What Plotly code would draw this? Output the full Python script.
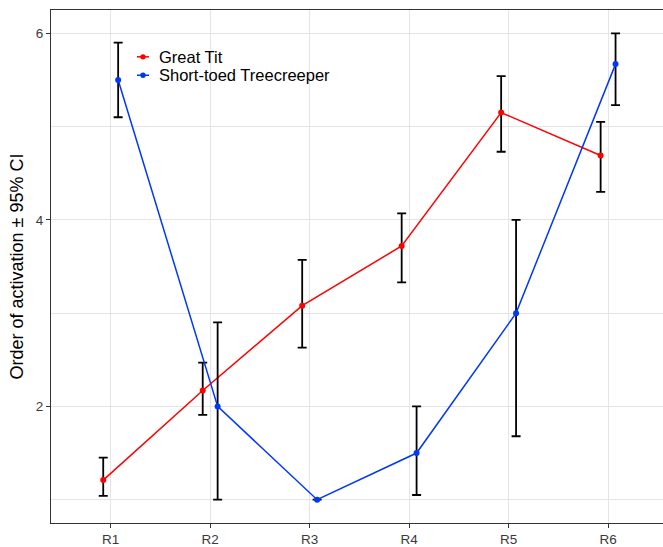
import plotly.graph_objects as go

# Round labels and per-species mean order of activation with 95% CI bounds
rounds = ["R1", "R2", "R3", "R4", "R5", "R6"]

great_tit_mean = [1.21, 2.17, 3.08, 3.72, 5.15, 4.69]
great_tit_low = [1.04, 1.91, 2.63, 3.33, 4.73, 4.30]
great_tit_high = [1.45, 2.47, 3.57, 4.07, 5.54, 5.05]

treecreeper_mean = [5.50, 2.00, 1.00, 1.50, 3.00, 5.67]
treecreeper_low = [5.10, 1.00, 1.00, 1.05, 1.68, 5.23]
treecreeper_high = [5.90, 2.90, 1.00, 2.00, 4.00, 6.00]

species = ["Great Tit", "Short-toed Treecreeper"]
colors = ["#FF0000", "#0038F8"]
dodge = 0.075

FONT = "Arial, Liberation Sans, sans-serif"

fig = go.Figure()

series = [
    (great_tit_mean, great_tit_low, great_tit_high, -dodge),
    (treecreeper_mean, treecreeper_low, treecreeper_high, dodge),
]
for (mean, low, high, shift), name, color in zip(series, species, colors):
    xs = [i + 1 + shift for i in range(len(rounds))]
    fig.add_trace(go.Scatter(
        x=xs, y=mean, name=name, mode="lines+markers",
        line=dict(color=color, width=1.5),
        marker=dict(color=color, size=6),
        error_y=dict(
            type="data", symmetric=False,
            array=[h - m for h, m in zip(high, mean)],
            arrayminus=[m - l for m, l in zip(mean, low)],
            color="black", thickness=1.8, width=4.5,
        ),
        showlegend=False,
    ))

# Legend drawn inside the panel: short line + dot, then the label
W, H = 663, 547
ml, mt, mb = 51, 10, 22
pw, ph = W - ml, H - mt - mb


def px(xp):
    return (xp - ml) / pw


def py(yp):
    return (H - mb - yp) / ph


shapes = []
annotations = []
for k, (name, color) in enumerate(zip(species, colors)):
    yc = 57 + k * 18.5
    shapes.append(dict(type="line", xref="paper", yref="paper",
                       x0=px(137), x1=px(149), y0=py(yc), y1=py(yc),
                       line=dict(color=color, width=1.5)))
    shapes.append(dict(type="circle", xref="paper", yref="paper",
                       x0=px(140.3), x1=px(145.7), y0=py(yc + 2.7), y1=py(yc - 2.7),
                       fillcolor=color, line=dict(color=color, width=0)))
    annotations.append(dict(xref="paper", yref="paper", x=px(158), y=py(yc),
                            xanchor="left", yanchor="middle", showarrow=False,
                            borderpad=0,
                            text=name, font=dict(family=FONT, size=16.5, color="black")))

fig.update_layout(
    width=W, height=H,
    margin=dict(l=ml, r=0, t=mt, b=mb),
    paper_bgcolor="white", plot_bgcolor="white",
    font=dict(family=FONT),
    shapes=shapes, annotations=annotations,
    showlegend=False,
)

fig.update_xaxes(
    range=[0.4, 6.552],
    tickmode="array", tickvals=list(range(1, len(rounds) + 1)), ticktext=rounds,
    showgrid=True, gridcolor="#E5E5E5", gridwidth=1.4, zeroline=False,
    showline=True, linecolor="#333333", linewidth=1.1, mirror=True,
    ticks="outside", ticklen=4, tickcolor="#333333", tickwidth=1.1,
    tickfont=dict(family=FONT, size=13.5, color="#3A3A3A"),
)
fig.update_yaxes(
    range=[0.75, 6.25],
    tickmode="array", tickvals=[2, 4, 6], ticktext=["2", "4", "6"],
    showgrid=True, gridcolor="#E5E5E5", gridwidth=1.4, zeroline=False,
    minor=dict(tickmode="array", tickvals=[1, 3, 5], showgrid=True,
               gridcolor="#E5E5E5", gridwidth=1.1, ticklen=0),
    showline=True, linecolor="#333333", linewidth=1.1,
    ticks="outside", ticklen=4, tickcolor="#333333", tickwidth=1.1,
    tickfont=dict(family=FONT, size=13.5, color="#3A3A3A"),
    title=dict(text="Order of activation \u00b1 95% CI", standoff=7,
               font=dict(family=FONT, size=18, color="black")),
)

fig.write_html("out.html")
